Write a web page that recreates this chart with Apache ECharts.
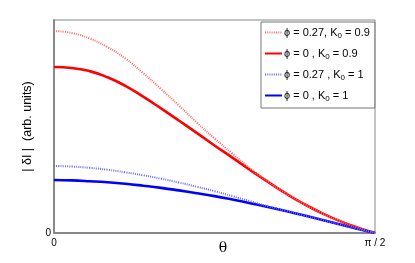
<!DOCTYPE html>
<html>
<head>
<meta charset="utf-8">
<script src="https://cdn.jsdelivr.net/npm/echarts@6/dist/echarts.min.js"></script>
<style>html,body{margin:0;padding:0;background:#fff}#c{width:415px;height:263px}</style>
</head>
<body>
<div id="c"></div>
<script>
// theta in degrees (0 .. 90 = pi/2)
const theta      = [0, 5, 10, 15, 20, 25, 30, 35, 40, 45, 50, 55, 60, 65, 70, 75, 80, 85, 90];
const redDotted  = [0.948, 0.939, 0.913, 0.873, 0.819, 0.751, 0.676, 0.599, 0.519, 0.444, 0.373, 0.304, 0.242, 0.187, 0.137, 0.094, 0.057, 0.026, 0];
const redSolid   = [0.779, 0.775, 0.760, 0.731, 0.691, 0.640, 0.585, 0.528, 0.470, 0.411, 0.354, 0.296, 0.240, 0.186, 0.137, 0.094, 0.057, 0.026, 0];
const blueDotted = [0.315, 0.312, 0.306, 0.297, 0.285, 0.271, 0.255, 0.237, 0.217, 0.196, 0.173, 0.149, 0.125, 0.104, 0.083, 0.062, 0.041, 0.020, 0];
const blueSolid  = [0.249, 0.247, 0.243, 0.238, 0.231, 0.222, 0.212, 0.200, 0.187, 0.173, 0.157, 0.140, 0.122, 0.103, 0.083, 0.062, 0.041, 0.020, 0];
const seriesNames = ['ϕ = 0.27, K0 = 0.9', 'ϕ = 0 , K0 = 0.9', 'ϕ = 0.27 , K0 = 1', 'ϕ = 0 , K0 = 1'];
const xTickLabels = {0: '0', 90: 'π / 2'};
const yTickLabels = {0: '0'};

const pair = (ys) => theta.map((t, i) => [t, ys[i]]);
const chart = echarts.init(document.getElementById('c'));
const font = 'Liberation Sans, Arial, sans-serif';
chart.setOption({
  animation: false,
  grid: {left: 54, right: 40, top: 20, bottom: 30, outerBoundsMode: 'none', containLabel: false,
    show: true, borderColor: '#888', borderWidth: 1},
  legend: {
    orient: 'vertical', left: 261, top: 22,
    itemWidth: 17, itemHeight: 8, itemGap: 8,
    padding: [5, 5, 5, 3],
    backgroundColor: '#fff', borderColor: '#777', borderWidth: 1, borderRadius: 0,
    itemStyle: {opacity: 0},
    textStyle: {fontFamily: font, fontSize: 11, color: '#000', padding: [0, 0, 0, -3],
      rich: {s: {fontFamily: font, fontSize: 8, color: '#000', verticalAlign: 'bottom', padding: [7, 0, 0, 0]}}},
    formatter: (n) => n.replace('K0', 'K{s|0}'),
    data: seriesNames
  },
  xAxis: {
    type: 'value', min: 0, max: 90, interval: 90,
    name: 'θ', nameLocation: 'middle', nameGap: 8, nameMoveOverlap: false,
    nameTextStyle: {fontFamily: 'DejaVu Serif, serif', fontSize: 14, color: '#000', padding: [0, 0, 0, 17],
      verticalAlign: 'top'},
    axisLine: {show: true, lineStyle: {color: '#888', width: 2}},
    axisTick: {show: false}, splitLine: {show: false},
    axisLabel: {fontFamily: font, fontSize: 10, color: '#000', margin: 5,
      align: 'center', verticalAlign: 'top',
      showMinLabel: true, showMaxLabel: true, hideOverlap: false,
      formatter: (v) => xTickLabels[v] !== undefined ? xTickLabels[v] : ''}
  },
  yAxis: {
    type: 'value', min: 0, max: 1, interval: 1,
    name: '| δI |  (arb. units)', nameLocation: 'middle', nameGap: 20, nameMoveOverlap: false,
    nameTextStyle: {fontFamily: font, fontSize: 12.5, color: '#000'},
    axisLine: {show: true, lineStyle: {color: '#888', width: 2}},
    axisTick: {show: false}, splitLine: {show: false},
    axisLabel: {fontFamily: font, fontSize: 10, color: '#000', margin: 3, align: 'right', verticalAlign: 'middle',
      showMinLabel: true, hideOverlap: false,
      formatter: (v) => yTickLabels[v] !== undefined ? yTickLabels[v] : ''}
  },
  series: [
    {name: seriesNames[0], type: 'line', data: pair(redDotted), smooth: 0.5, symbol: 'none',
      lineStyle: {color: '#ff6a6a', width: 2, type: [1, 1.2]}, itemStyle: {color: '#ff6a6a'}, z: 3},
    {name: seriesNames[1], type: 'line', data: pair(redSolid), smooth: 0.5, symbol: 'none',
      lineStyle: {color: '#ff0000', width: 2.6}, itemStyle: {color: '#ff0000'}, z: 2},
    {name: seriesNames[2], type: 'line', data: pair(blueDotted), smooth: 0.5, symbol: 'none',
      lineStyle: {color: '#6a6aff', width: 2, type: [1, 1.2]}, itemStyle: {color: '#6a6aff'}, z: 3},
    {name: seriesNames[3], type: 'line', data: pair(blueSolid), smooth: 0.5, symbol: 'none',
      lineStyle: {color: '#0000ff', width: 2.6}, itemStyle: {color: '#0000ff'}, z: 2}
  ]
});
</script>
</body>
</html>
